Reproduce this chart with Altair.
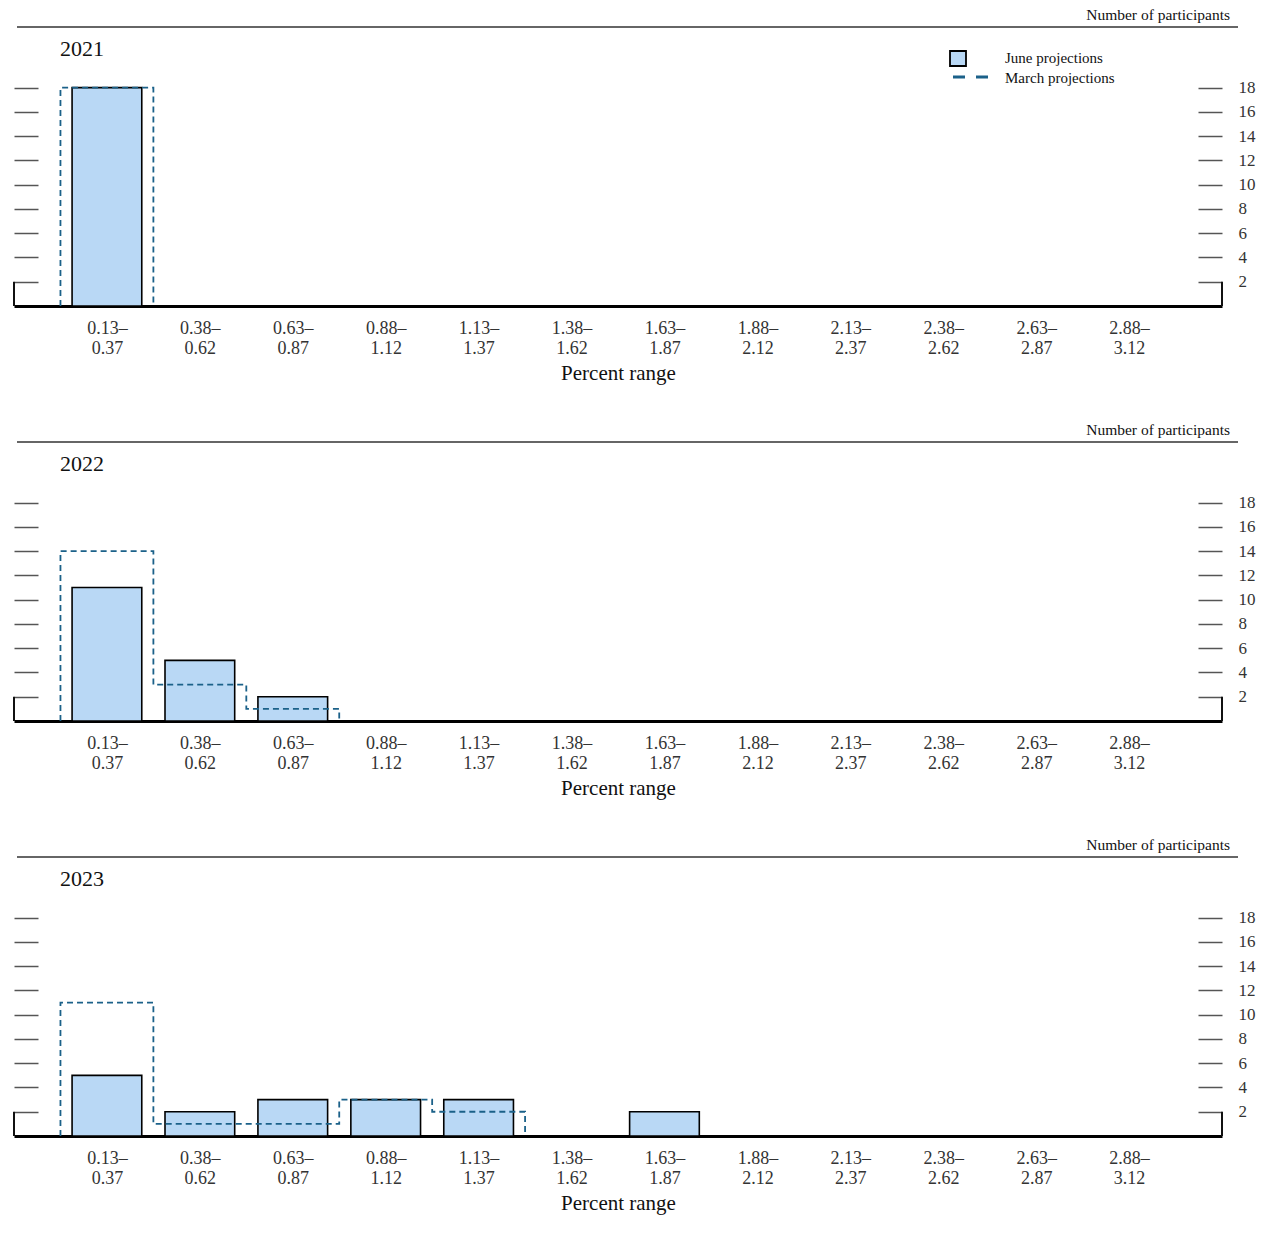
import json
import altair as alt
import pandas as pd

# ---------------- data ----------------
range_low = ["0.13–", "0.38–", "0.63–", "0.88–", "1.13–", "1.38–",
             "1.63–", "1.88–", "2.13–", "2.38–", "2.63–", "2.88–"]
range_high = ["0.37", "0.62", "0.87", "1.12", "1.37", "1.62",
              "1.87", "2.12", "2.37", "2.62", "2.87", "3.12"]
years = ["2021", "2022", "2023"]

june_2021 = [18, 0, 0, 0, 0, 0, 0, 0, 0, 0, 0, 0]
march_2021 = [18, 0, 0, 0, 0, 0, 0, 0, 0, 0, 0, 0]
june_2022 = [11, 5, 2, 0, 0, 0, 0, 0, 0, 0, 0, 0]
march_2022 = [14, 3, 1, 0, 0, 0, 0, 0, 0, 0, 0, 0]
june_2023 = [5, 2, 3, 3, 3, 0, 2, 0, 0, 0, 0, 0]
march_2023 = [11, 1, 1, 3, 2, 0, 0, 0, 0, 0, 0, 0]

y_ticks = [2, 4, 6, 8, 10, 12, 14, 16, 18]
legend_labels = ["June projections", "March projections"]
y_axis_title = "Number of participants"
x_axis_title = "Percent range"

# ---------------- styling ----------------
FONT = "Liberation Serif"
W, H = 1208, 279
BAR_FILL = "#b9d8f5"
DASH_COLOR = "#1b6189"

n = len(range_low)
x_scale = alt.Scale(domain=[-1, n], nice=False, zero=False)
y_scale = alt.Scale(domain=[0, 23], nice=False, zero=True)

label_arr = json.dumps([[a, b] for a, b in zip(range_low, range_high)], ensure_ascii=False)
x_axis = alt.Axis(
    values=list(range(n)), labelExpr=f"{label_arr}[datum.value]",
    ticks=False, grid=False, domain=True, domainColor="#000", domainWidth=3,
    labelFont=FONT, labelFontSize=18, labelLineHeight=20, labelPadding=13,
    labelColor="#333", labelAngle=0,
    title=x_axis_title, titleFont=FONT, titleFontSize=21, titleFontWeight="normal",
    titleColor="#111", titlePadding=5,
)
left_axis = alt.Axis(orient="left", offset=-24, tickSize=24, tickColor="#555",
                     tickWidth=1.5, domain=False, labels=False, values=y_ticks,
                     title=None, grid=False)
right_axis = alt.Axis(orient="right", offset=-24, tickSize=24, tickColor="#555",
                      tickWidth=1.5, domain=False, labels=True, values=y_ticks,
                      labelFont=FONT, labelFontSize=17, labelColor="#333",
                      labelPadding=16, title=None, grid=False)


def step_points(vals):
    last = max(i for i, v in enumerate(vals) if v > 0)
    xs = [-0.5] + [i - 0.5 for i in range(last + 1)] + [last + 0.5]
    ys = [0] + [vals[i] for i in range(last + 1)] + [0]
    return pd.DataFrame({"ex": xs, "mv": ys, "o": list(range(len(xs)))})


def panel(year, june, march, legend):
    bars_df = pd.DataFrame({"idx": list(range(n)), "june": june})
    bars_df = bars_df[bars_df["june"] > 0]

    bars = alt.Chart(bars_df).transform_calculate(
        x0="datum.idx - 0.375", x1="datum.idx + 0.375"
    ).mark_bar(fill=BAR_FILL, stroke="#000", strokeWidth=1.6).encode(
        x=alt.X("x0:Q", scale=x_scale, axis=x_axis),
        x2="x1:Q",
        y=alt.Y("june:Q", scale=y_scale, axis=left_axis),
        y2=alt.datum(0),
    )

    line = alt.Chart(step_points(march)).mark_line(
        interpolate="step-after", strokeDash=[6, 4], color=DASH_COLOR, strokeWidth=1.8
    ).encode(
        x=alt.X("ex:Q", scale=x_scale, axis=x_axis),
        y=alt.Y("mv:Q", scale=y_scale, axis=right_axis),
        order=alt.Order("o:Q"),
    )

    one = pd.DataFrame({"t": [year]})
    bracket_l = alt.Chart(one).mark_rule(color="#111", strokeWidth=2).encode(
        x=alt.value(0), y=alt.Y(datum=0, scale=y_scale, axis=None), y2=alt.datum(2))
    bracket_r = alt.Chart(one).mark_rule(color="#111", strokeWidth=2).encode(
        x=alt.value(W), y=alt.Y(datum=0, scale=y_scale, axis=None), y2=alt.datum(2))

    top_rule = alt.Chart(one).mark_rule(color="#333", strokeWidth=1.5).encode(
        x=alt.value(3), x2=alt.value(W + 16), y=alt.value(0))

    year_txt = alt.Chart(one).mark_text(
        font=FONT, fontSize=22, align="left", baseline="middle", color="#111"
    ).encode(text="t:N", x=alt.value(46), y=alt.value(22))

    ytitle = alt.Chart(pd.DataFrame({"t": [y_axis_title]})).mark_text(
        font=FONT, fontSize=15.5, align="right", baseline="middle", color="#111"
    ).encode(text="t:N", x=alt.value(W + 8), y=alt.value(-12))

    layers = [bars, line, bracket_l, bracket_r, top_rule, year_txt, ytitle]

    if legend:
        key_box = alt.Chart(one).mark_rect(
            fill=BAR_FILL, stroke="#000", strokeWidth=1.8
        ).encode(x=alt.value(936), x2=alt.value(952), y=alt.value(24), y2=alt.value(39))
        key_line = alt.Chart(one).mark_rule(
            color=DASH_COLOR, strokeWidth=3, strokeDash=[12, 11]
        ).encode(x=alt.value(939), x2=alt.value(975), y=alt.value(50))
        leg_june = alt.Chart(pd.DataFrame({"t": [legend_labels[0]]})).mark_text(
            font=FONT, fontSize=15, align="left", baseline="middle", color="#111"
        ).encode(text="t:N", x=alt.value(991), y=alt.value(31))
        leg_march = alt.Chart(pd.DataFrame({"t": [legend_labels[1]]})).mark_text(
            font=FONT, fontSize=15, align="left", baseline="middle", color="#111"
        ).encode(text="t:N", x=alt.value(991), y=alt.value(51))
        layers += [key_box, key_line, leg_june, leg_march]

    return alt.layer(*layers).resolve_axis(y="independent").resolve_scale(
        y="shared"
    ).properties(width=W, height=H)


p1 = panel(years[0], june_2021, march_2021, True)
p2 = panel(years[1], june_2022, march_2022, False)
p3 = panel(years[2], june_2023, march_2023, False)

chart = alt.vconcat(p1, p2, p3, spacing=136, bounds="flush").properties(
    padding={"top": 0, "left": 5, "right": 5, "bottom": 5},
    background="white",
).configure_view(stroke="transparent", strokeWidth=0)

chart.save("out.html", embed_options={"renderer": "svg", "actions": False})
